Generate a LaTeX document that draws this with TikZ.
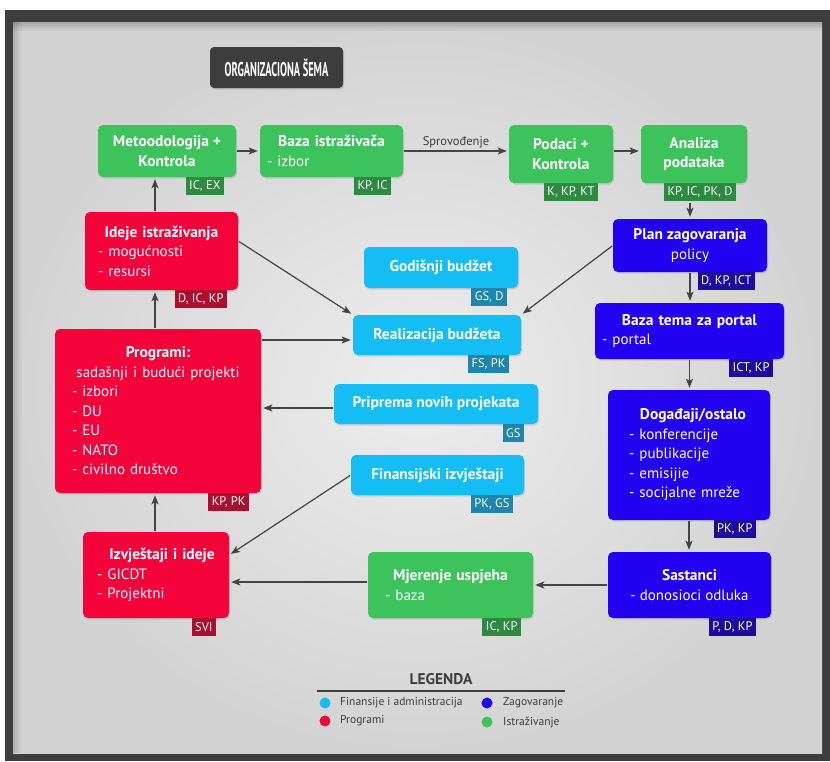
\documentclass[tikz,border=0pt]{standalone}
\usepackage{fontspec}
\setmainfont{PT Sans}
\newfontfamily\titlefont{PT Sans}[FakeStretch=0.52]
\usetikzlibrary{arrows.meta,shadows,calc}
\definecolor{cgreen}{HTML}{3DC35B}
\definecolor{tgreen}{HTML}{2E8A41}
\definecolor{cred}{HTML}{F4033B}
\definecolor{tred}{HTML}{AE0E2E}
\definecolor{cblue}{HTML}{2200F0}
\definecolor{tblue}{HTML}{1C0B9E}
\definecolor{ccyan}{HTML}{14BDF4}
\definecolor{tcyan}{HTML}{1E85AE}
\definecolor{cdark}{HTML}{3D3D3D}
\definecolor{cline}{HTML}{444444}
\definecolor{bglight}{HTML}{EDEDED}
\definecolor{bgdark}{HTML}{D3D3D3}
\newcommand\hd[1]{{\fontsize{15.5}{19.5}\selectfont\bfseries #1}}
\newcommand\ctr[1]{\makebox[\linewidth][c]{#1}}
\tikzset{
  box/.style={rounded corners=5pt, inner sep=0pt, text=white,
    font=\fontsize{15}{19.5}\selectfont,
    drop shadow={opacity=0.25, shadow xshift=1pt, shadow yshift=-1.5pt}},
  gbox/.style={box, fill=cgreen},
  rbox/.style={box, fill=cred},
  bbox/.style={box, fill=cblue},
  cbox/.style={box, fill=ccyan},
  tag/.style={text=white, font=\fontsize{12.5}{14}\selectfont, inner xsep=3.5pt,
    inner ysep=0pt, minimum height=18pt, anchor=north east},
  tagg/.style={tag, fill=tgreen},
  tagr/.style={tag, fill=tred},
  tagb/.style={tag, fill=tblue},
  tagc/.style={tag, fill=tcyan},
  arr/.style={draw=cline, line width=1.2pt,
    -{Stealth[length=9pt,width=7pt,inset=2pt]}, shorten >=2pt, shorten <=1pt},
  legtxt/.style={anchor=west, text=cdark, font=\fontsize{11.5}{13}\selectfont, inner sep=0pt},
  legdot/.style={circle, inner sep=0pt, minimum size=11pt}
}
\begin{document}
\begin{tikzpicture}[x=1pt,y=-1pt]
\useasboundingbox (0,0) rectangle (830,761);
\fill[white] (0,0) rectangle (830,761);
\fill[cdark] (5,10) rectangle (830,761);
\shade[inner color=bglight, outer color=bgdark] (13,22) rectangle (822,753);
\foreach \d in {2,4,6,9}{
  \fill[black, opacity=0.05] (13,22) rectangle (822,22+\d);
  \fill[black, opacity=0.04] (13,22) rectangle (13+\d,753);
}

% title
\node[fill=cdark, rounded corners=4pt, minimum width=133pt, minimum height=41pt,
  text=white, font=\titlefont\fontsize{20}{22}\selectfont\bfseries,
  drop shadow={opacity=0.3, shadow xshift=1pt, shadow yshift=-1.5pt}]
  (title) at (276.5,67.5) {ORGANIZACIONA ŠEMA};

% green (research)
\node[gbox, minimum width=138pt, minimum height=52pt, align=center] (met) at (167,151)
  {\hd{Metoodologija +}\\\hd{Kontrola}};
\node[tagg] (tmet) at ([xshift=-12pt]met.south east) {IC, EX};

\node[gbox, minimum width=143pt, minimum height=52pt, text width=129pt, align=left] (baza) at (331.5,151)
  {\ctr{\hd{Baza istraživača}}\\- izbor};
\node[tagg] (tbaza) at ([xshift=-12pt]baza.south east) {KP, IC};

\node[gbox, minimum width=104pt, minimum height=58pt, align=center] (pod) at (561,154)
  {\hd{Podaci +}\\\hd{Kontrola}};
\node[tagg] (tpod) at ([xshift=-15pt]pod.south east) {K, KP, KT};

\node[gbox, minimum width=106pt, minimum height=58pt, align=center] (ana) at (694,154)
  {\hd{Analiza}\\\hd{podataka}};
\node[tagg] (tana) at ([xshift=-11pt]ana.south east) {KP, IC, PK, D};

\node[gbox, minimum width=165pt, minimum height=66pt, text width=131pt, align=left] (mje) at (450.5,585)
  {\ctr{\hd{Mjerenje uspjeha}}\\- baza};
\node[tagg] (tmje) at ([xshift=-12pt]mje.south east) {IC, KP};

% blue (advocacy)
\node[bbox, minimum width=154pt, minimum height=53pt, align=center] (plan) at (690,245.5)
  {\hd{Plan zagovaranja}\\policy};
\node[tagb] (tplan) at ([xshift=-12pt]plan.south east) {D, KP, ICT};

\node[bbox, minimum width=189pt, minimum height=56pt, text width=175pt, align=left] (bazat) at (689.5,331)
  {\ctr{\hd{Baza tema za portal}}\\- portal};
\node[tagb] (tbazat) at ([xshift=-11pt]bazat.south east) {ICT, KP};

\node[bbox, minimum width=162pt, minimum height=130pt, text width=120pt, align=left] (dog) at (689,455)
  {\ctr{\hspace{8pt}\hd{Događaji/ostalo}}\\- konferencije\\- publikacije\\- emisijie\\- socijalne mreže};
\node[tagb] (tdog) at ([xshift=-14pt]dog.south east) {PK, KP};

\node[bbox, minimum width=163pt, minimum height=66pt, align=center] (sas) at (689.5,585)
  {\hd{Sastanci}\\- donosioci odluka};
\node[tagb] (tsas) at ([xshift=-15pt]sas.south east) {P, D, KP};

% cyan (finance)
\node[cbox, minimum width=154pt, minimum height=41pt] (god) at (441,267.5) {\hd{Godišnji budžet}};
\node[tagc] (tgod) at ([xshift=-11pt]god.south east) {GS, D};

\node[cbox, minimum width=168pt, minimum height=40pt] (real) at (437,335) {\hd{Realizacija budžeta}};
\node[tagc] (treal) at ([xshift=-12pt]real.south east) {FS, PK};

\node[cbox, minimum width=204pt, minimum height=40pt] (prip) at (436,404) {\hd{Priprema novih projekata}};
\node[tagc] (tprip) at ([xshift=-14pt]prip.south east) {GS};

\node[cbox, minimum width=173pt, minimum height=40pt] (fin) at (437.5,475) {\hd{Finansijski izvještaji}};
\node[tagc] (tfin) at ([xshift=-11pt]fin.south east) {PK, GS};

% red (programs)
\node[rbox, minimum width=153pt, minimum height=78pt, text width=127pt, align=left] (ide) at (161.5,251)
  {\ctr{\hd{Ideje istraživanja}}\\- mogućnosti\\- resursi};
\node[tagr] (tide) at ([xshift=-11pt]ide.south east) {D, IC, KP};

\node[rbox, minimum width=206pt, minimum height=164pt, text width=172pt, align=left] (pro) at (158,411)
  {\ctr{\hd{Programi:}}\\\ctr{sadašnji i budući projekti}\\- izbori\\- DU\\- EU\\- NATO\\- civilno društvo};
\node[tagr] (tpro) at ([xshift=-12pt]pro.south east) {KP, PK};

\node[rbox, minimum width=146pt, minimum height=86pt, text width=118pt, align=left] (izv) at (156,575)
  {\ctr{\hspace{12pt}\hd{Izvještaji i ideje}}\\- GICDT\\- Projektni};
\node[tagr] (tizv) at ([xshift=-13pt]izv.south east) {SVI};

% connectors
\draw[arr] (met.east) -- (baza.west);
\draw[arr] (baza.east) -- (baza.east -| pod.west)
  node[midway, above=1pt, text=cdark, font=\fontsize{12.5}{14}\selectfont, inner sep=1pt] (sprov) {Sprovođenje};
\draw[arr] ([yshift=3pt]pod.east) -- ([yshift=3pt]ana.west);
\draw[arr] (plan.north |- tana.south) -- (plan.north);
\draw[arr] (plan.south) -- (plan.south |- bazat.north);
\draw[arr] (bazat.south) -- (bazat.south |- dog.north);
\draw[arr] (dog.south) -- (dog.south |- sas.north);
\draw[arr] (sas.west) -- (mje.east);
\draw[arr] ([yshift=3pt]mje.west) -- ([yshift=3pt]mje.west -| izv.east);
\draw[arr] (fin.west) -- ([yshift=20pt]izv.east);
\draw[arr] (izv.north -| 155,0) -- (pro.south -| 155,0);
\draw[arr] (pro.north -| 155,0) -- (ide.south -| 155,0);
\draw[arr] (ide.north -| 155,0) -- (met.south -| 155,0);
\draw[arr] ([yshift=-5pt]real.west -| pro.east) -- ([yshift=-5pt]real.west);
\draw[arr] ([yshift=-4pt]prip.west) -- ([yshift=-4pt]prip.west -| pro.east);
\draw[arr] ([yshift=10pt]ide.east) -- (real.north west);
\draw[arr] (plan.west) -- (real.north east);

% legend
\node[text=cdark, font=\fontsize{15.5}{17}\selectfont\bfseries] (legt) at (441,679) {LEGENDA};
\coordinate (lgl) at (317,691);
\coordinate (lgr) at (565,691);
\draw[cdark, line width=1.2pt] (lgl) -- (lgr);
\node[legdot, fill=ccyan] (ld1) at (325,703) {};
\node[legdot, fill=cred] (ld2) at (325,721) {};
\node[legdot, fill=cblue] (ld3) at (487,703) {};
\node[legdot, fill=cgreen] (ld4) at (487,722) {};
\node[legtxt] (lt1) at (340,703) {Finansije i administracija};
\node[legtxt] (lt2) at (340,721) {Programi};
\node[legtxt] (lt3) at (503,703) {Zagovaranje};
\node[legtxt] (lt4) at (503,722) {Istraživanje};
\end{tikzpicture}
\end{document}
